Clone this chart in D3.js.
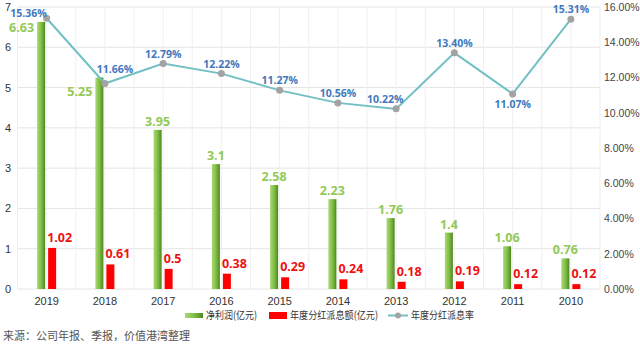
<!DOCTYPE html>
<html>
<head>
<meta charset="utf-8">
<script src="https://cdn.jsdelivr.net/npm/d3@7"></script>
<style>
  body { margin: 0; background: #fff; }
  svg { display: block; font-family: "Open Sans", "Noto Sans CJK SC", sans-serif; }
</style>
</head>
<body>
<svg id="chart" width="640" height="346"></svg>
<script>
// data
var years = ['2019','2018','2017','2016','2015','2014','2013','2012','2011','2010'];
var profit = [6.63, 5.25, 3.95, 3.1, 2.58, 2.23, 1.76, 1.4, 1.06, 0.76];
var dividend = [1.02, 0.61, 0.5, 0.38, 0.29, 0.24, 0.18, 0.19, 0.12, 0.12];
var rate = [15.36, 11.66, 12.79, 12.22, 11.27, 10.56, 10.22, 13.40, 11.07, 15.31];
var leftTicks = [0, 1, 2, 3, 4, 5, 6, 7];
var rightTicks = [0, 2, 4, 6, 8, 10, 12, 14, 16];
var seriesNames = ['净利润(亿元)', '年度分红派息额(亿元)', '年度分红派息率'];
var source = '来源：公司年报、季报，价值港湾整理';

// where excel put a few of the labels
var profitLabelPos = ['left', 'leftLow', 'top', 'top', 'top', 'top', 'top', 'top', 'top', 'top'];
var rateLabelPos = ['left', 'right', 'top', 'top', 'top', 'top', 'leftTop', 'top', 'bottom', 'top'];

var svg = d3.select('#chart');
var plot = {left: 17.5, right: 600, top: 7, bottom: 289};

var x = d3.scaleBand().domain(years).range([plot.left, plot.right]).padding(0);
var sub = d3.scaleBand().domain(['p', 'd']).range([-9.5, 9.5]).paddingInner(3 / 11).paddingOuter(0);
var y = d3.scaleLinear().domain([0, 7]).range([plot.bottom, plot.top]);
var y2 = d3.scaleLinear().domain([0, 16]).range([plot.bottom, plot.top]);
var cx = d => x(d) + x.bandwidth() / 2;

var defs = svg.append('defs');
var grad = defs.append('linearGradient').attr('id', 'gbar').attr('x1', 0).attr('x2', 1).attr('y1', 0).attr('y2', 0);
grad.append('stop').attr('offset', '0%').attr('stop-color', '#a8d870');
grad.append('stop').attr('offset', '45%').attr('stop-color', '#86c24a');
grad.append('stop').attr('offset', '85%').attr('stop-color', '#5e9a2c');
grad.append('stop').attr('offset', '100%').attr('stop-color', '#4a7f20');

// grid
var grid = svg.append('g');
grid.selectAll('line.h').data(leftTicks).enter().append('line')
  .attr('x1', plot.left).attr('x2', plot.right)
  .attr('y1', d => y(d)).attr('y2', d => y(d))
  .attr('stroke', '#e4e4e4').attr('stroke-width', 1);
var vgrid = [];
years.forEach(function (d) { vgrid.push(x(d)); vgrid.push(cx(d)); });
vgrid.push(plot.right);
grid.selectAll('line.v').data(vgrid).enter().append('line')
  .attr('x1', d => d).attr('x2', d => d)
  .attr('y1', plot.top).attr('y2', plot.bottom)
  .attr('stroke', '#efefef').attr('stroke-width', 1);

// axes (text only)
var yAxis = svg.append('g').attr('transform', 'translate(11,0)')
  .call(d3.axisLeft(y).tickValues(leftTicks).tickSize(0).tickPadding(0).tickFormat(d3.format('d')));
var yAxis2 = svg.append('g').attr('transform', 'translate(604,0)')
  .call(d3.axisRight(y2).tickValues(rightTicks).tickSize(0).tickPadding(0).tickFormat(d => d.toFixed(2) + '%'));
var xAxis = svg.append('g').attr('transform', 'translate(0,' + plot.bottom + ')')
  .call(d3.axisBottom(x).tickSize(0).tickPadding(8));
[yAxis, yAxis2, xAxis].forEach(function (a) {
  a.select('.domain').remove();
  a.selectAll('text').attr('fill', '#333').attr('font-size', 11);
});
yAxis2.selectAll('text').attr('fill', '#444').attr('font-size', 10.5);

// bars
var rows = years.map((d, i) => ({year: d, p: profit[i], d: dividend[i], r: rate[i], i: i}));
svg.append('g').selectAll('rect').data(rows).enter().append('rect')
  .attr('x', d => cx(d.year) + sub('p'))
  .attr('width', sub.bandwidth())
  .attr('y', d => y(d.p))
  .attr('height', d => y(0) - y(d.p))
  .attr('fill', 'url(#gbar)');
svg.append('g').selectAll('rect').data(rows).enter().append('rect')
  .attr('x', d => cx(d.year) + sub('d'))
  .attr('width', sub.bandwidth())
  .attr('y', d => y(d.d))
  .attr('height', d => y(0) - y(d.d))
  .attr('fill', '#ff0000');

// bar labels
svg.append('g').selectAll('text').data(rows).enter().append('text')
  .attr('x', function (d) {
    var bx = cx(d.year) + sub('p');
    return profitLabelPos[d.i] == 'top' ? bx + sub.bandwidth() / 2 : bx - 3;
  })
  .attr('y', function (d) {
    var p = profitLabelPos[d.i];
    if (p == 'left') return y(d.p) + 10;
    if (p == 'leftLow') return y(d.p) + 18;
    return y(d.p) - 4;
  })
  .attr('text-anchor', d => profitLabelPos[d.i] == 'top' ? 'middle' : 'end')
  .attr('font-size', 12.5).attr('font-weight', 'bold').attr('fill', '#92c957')
  .text(d => d.p);
svg.append('g').selectAll('text').data(rows).enter().append('text')
  .attr('x', d => cx(d.year) + sub('d') - 1)
  .attr('y', d => y(d.d) - 6)
  .attr('font-size', 12.5).attr('font-weight', 'bold').attr('fill', '#ee1111')
  .text(d => d.d);

// rate line
var line = d3.line().x(d => cx(d.year)).y(d => y2(d.r));
svg.append('path').datum(rows).attr('d', line)
  .attr('fill', 'none').attr('stroke', '#72c0c4').attr('stroke-width', 2);
svg.append('g').selectAll('circle').data(rows).enter().append('circle')
  .attr('cx', d => cx(d.year)).attr('cy', d => y2(d.r)).attr('r', 3.5)
  .attr('fill', '#a3a3a3');
svg.append('g').selectAll('text').data(rows).enter().append('text')
  .attr('x', function (d) {
    var p = rateLabelPos[d.i], px = cx(d.year);
    if (p == 'right') return px + 10;
    if (p == 'leftTop') return px - 11;
    return px;
  })
  .attr('y', function (d) {
    var p = rateLabelPos[d.i], py = y2(d.r);
    if (p == 'bottom') return py + 14;
    if (p == 'left') return py - 1;
    if (p == 'right') return py - 10;
    return py - 6;
  })
  .attr('text-anchor', d => rateLabelPos[d.i] == 'left' ? 'end' : 'middle')
  .attr('font-size', 10.5).attr('font-weight', 'bold').attr('fill', '#3f78bd')
  .text(d => d.r.toFixed(2) + '%');

// legend
var lg = svg.append('g').attr('font-size', 10.5).attr('fill', '#333')
  .attr('font-family', '"Noto Sans CJK SC", sans-serif');
lg.append('rect').attr('x', 185).attr('y', 313).attr('width', 18).attr('height', 5).attr('fill', 'url(#gbar)');
lg.append('text').attr('x', 206).attr('y', 319).attr('textLength', 51).attr('lengthAdjust', 'spacingAndGlyphs').text(seriesNames[0]);
lg.append('rect').attr('x', 269).attr('y', 312).attr('width', 18).attr('height', 7).attr('fill', '#ff0000');
lg.append('text').attr('x', 290).attr('y', 319).attr('textLength', 88).attr('lengthAdjust', 'spacingAndGlyphs').text(seriesNames[1]);
lg.append('line').attr('x1', 388).attr('x2', 408).attr('y1', 315.5).attr('y2', 315.5)
  .attr('stroke', '#72c0c4').attr('stroke-width', 2);
lg.append('circle').attr('cx', 398).attr('cy', 315.5).attr('r', 3).attr('fill', '#a3a3a3');
lg.append('text').attr('x', 411).attr('y', 319).attr('textLength', 63).attr('lengthAdjust', 'spacingAndGlyphs').text(seriesNames[2]);

svg.append('text').attr('x', 3).attr('y', 340)
  .attr('font-size', 11).attr('fill', '#555')
  .attr('font-family', '"Noto Sans CJK SC", serif')
  .text(source);
</script>
</body>
</html>
